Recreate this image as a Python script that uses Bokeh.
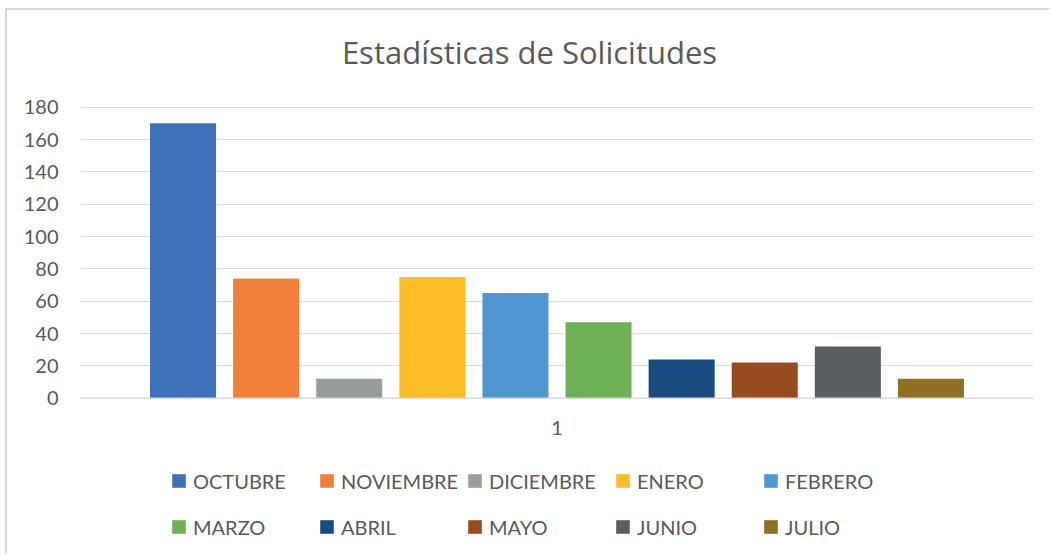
from bokeh.plotting import figure
from bokeh.models import (FactorRange, Range1d, FixedTicker, Legend, LegendItem,
                          ColumnDataSource, Label, Span)
from bokeh.transform import dodge
from bokeh.core.properties import value
from bokeh.embed import file_html
from bokeh.resources import INLINE

# ---- data ----
category = ["1"]
months = ["OCTUBRE", "NOVIEMBRE", "DICIEMBRE", "ENERO", "FEBRERO",
          "MARZO", "ABRIL", "MAYO", "JUNIO", "JULIO"]
values = [170, 74, 12, 75, 65, 47, 24, 22, 32, 12]
colors = ["#3D72BA", "#F0803B", "#9A9C9C", "#FDBD27", "#4F96D2",
          "#6DB055", "#1A4B7E", "#984A20", "#5A5E5F", "#8F7022"]
y_ticks = [0, 20, 40, 60, 80, 100, 120, 140, 160, 180]
title_text = "Estadísticas de Solicitudes"

FONT = "Lato"
TXT = "#595959"
GRID = "#d9d9d9"

W, H = 1044, 545
p = figure(width=W, height=H, output_backend="svg", toolbar_location=None,
           x_range=FactorRange(factors=category, range_padding=0),
           y_range=Range1d(-97.3, 239.8), x_axis_location=None,
           min_border_left=73, min_border_right=18, min_border_top=0, min_border_bottom=0)
p.margin = (8, 0, 0, 5)
p.styles = {"border-top": "2px solid #d9d9d9", "border-left": "2px solid #d9d9d9"}
p.outline_line_color = None
p.background_fill_color = "white"
p.border_fill_color = "white"

# title
p.add_layout(Label(x=449, y=504, x_units="screen", y_units="screen", text=title_text,
                   text_align="center", text_baseline="alphabetic",
                   text_font="Open Sans", text_font_size="31px", text_color=TXT))

n = len(months)
pitch = 0.0872
bw = 0.0693
items = []
for i, (m, v, c) in enumerate(zip(months, values, colors)):
    src = ColumnDataSource(dict(x=category, top=[v]))
    r = p.vbar(x=dodge("x", (i - (n - 1) / 2) * pitch, range=p.x_range), top="top",
               bottom=0, width=bw, source=src, fill_color=c, line_color=None)
    items.append(LegendItem(label=m, renderers=[r]))

# zero line over the bars
p.add_layout(Span(location=y_ticks[0], dimension="width", line_color=GRID, line_width=1.5))

# category label
p.text(x=category, y=[0], text=category, y_offset=30, text_align="center",
       text_baseline="middle", text_font=value(FONT), text_font_size="20px", text_color=TXT)

# y axis
p.yaxis.ticker = FixedTicker(ticks=y_ticks)
p.yaxis.axis_line_color = None
p.yaxis.major_tick_line_color = None
p.yaxis.minor_tick_line_color = None
p.yaxis.major_tick_out = 0
p.yaxis.major_tick_in = 0
p.yaxis.major_label_standoff = 22
p.yaxis.major_label_text_font = FONT
p.yaxis.major_label_text_font_size = "20px"
p.yaxis.major_label_text_color = TXT

p.xgrid.grid_line_color = None
p.ygrid.ticker = FixedTicker(ticks=y_ticks)
p.ygrid.grid_line_color = GRID
p.ygrid.grid_line_width = 1.2

legend = Legend(items=items, ncols=5, orientation="horizontal", location=(90, 9),
                glyph_width=17, glyph_height=17, label_standoff=6,
                label_width=118, label_height=39, spacing=7,
                padding=0, margin=0, border_line_color=None,
                background_fill_alpha=0,
                label_text_font=FONT, label_text_font_size="20px",
                label_text_color=TXT)
p.add_layout(legend, "center")

open("out.html", "w").write(file_html(p, INLINE))
